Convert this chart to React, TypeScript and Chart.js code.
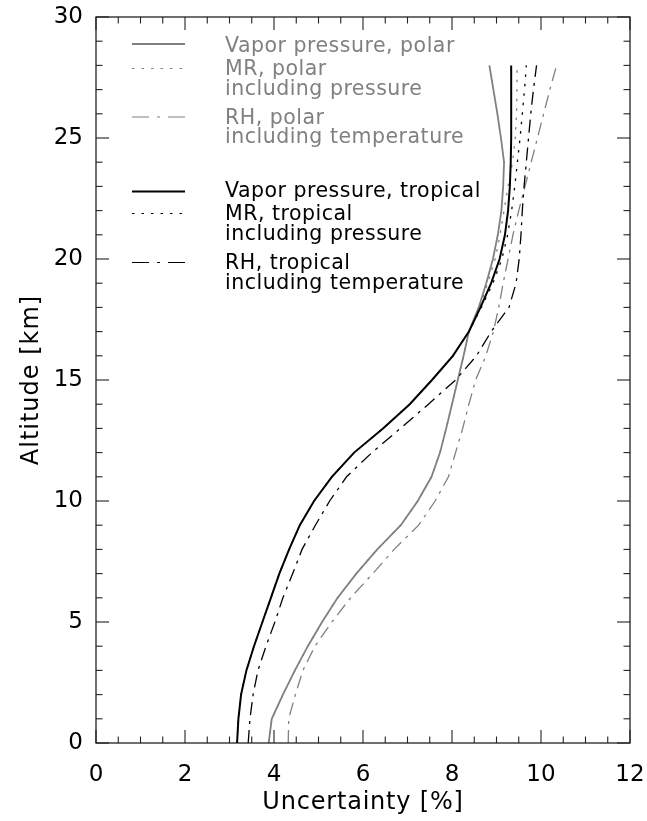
import { useEffect, useRef } from "react";
import { Chart, registerables } from "chart.js";

Chart.register(...registerables);

// ---------------- data ----------------
const ALTITUDE_KM = [0, 1, 2, 3, 4, 5, 6, 7, 8, 9, 10, 11, 12, 13, 14, 15, 16, 17, 18, 19, 20, 21, 22, 23, 24, 25, 26, 27, 28];

const VP_POLAR = [3.88, 3.95, 4.2, 4.47, 4.76, 5.08, 5.43, 5.85, 6.32, 6.85, 7.23, 7.54, 7.73, 7.87, 8.0, 8.13, 8.26, 8.38, 8.6, 8.77, 8.92, 9.03, 9.11, 9.15, 9.17, 9.1, 9.02, 8.93, 8.84];
const MR_POLAR = [3.88, 3.95, 4.2, 4.47, 4.76, 5.08, 5.43, 5.85, 6.32, 6.85, 7.23, 7.54, 7.73, 7.87, 8.0, 8.13, 8.26, 8.38, 8.62, 8.8, 8.97, 9.08, 9.17, 9.26, 9.36, 9.42, 9.45, 9.46, 9.46];
const RH_POLAR = [4.32, 4.33, 4.48, 4.65, 4.92, 5.3, 5.72, 6.22, 6.7, 7.25, 7.62, 7.92, 8.08, 8.24, 8.38, 8.53, 8.76, 8.93, 9.05, 9.15, 9.26, 9.37, 9.5, 9.64, 9.78, 9.92, 10.06, 10.2, 10.35];

const VP_TROPICAL = [3.17, 3.2, 3.26, 3.38, 3.55, 3.74, 3.93, 4.12, 4.34, 4.58, 4.9, 5.3, 5.8, 6.45, 7.05, 7.55, 8.02, 8.38, 8.64, 8.88, 9.07, 9.19, 9.26, 9.3, 9.32, 9.33, 9.33, 9.33, 9.33];
const MR_TROPICAL = [3.17, 3.2, 3.26, 3.38, 3.55, 3.74, 3.93, 4.12, 4.34, 4.58, 4.9, 5.3, 5.8, 6.45, 7.05, 7.55, 8.02, 8.38, 8.66, 8.92, 9.12, 9.25, 9.34, 9.41, 9.47, 9.53, 9.58, 9.63, 9.67];
const RH_TROPICAL = [3.42, 3.46, 3.53, 3.64, 3.82, 4.02, 4.2, 4.42, 4.63, 4.93, 5.25, 5.63, 6.2, 6.84, 7.47, 8.08, 8.55, 8.88, 9.28, 9.44, 9.51, 9.55, 9.58, 9.62, 9.67, 9.72, 9.77, 9.83, 9.9];

const X_TICKS = [0, 2, 4, 6, 8, 10, 12];
const Y_TICKS = [0, 5, 10, 15, 20, 25, 30];

const X_TITLE = "Uncertainty [%]";
const Y_TITLE = "Altitude [km]";

const LEGEND_LABELS = [
  ["Vapor pressure, polar"],
  ["MR, polar", "including pressure"],
  ["RH, polar", "including temperature"],
  ["Vapor pressure, tropical"],
  ["MR, tropical", "including pressure"],
  ["RH, tropical", "including temperature"],
];

// ---------------- styles ----------------
const GRAY = "#808080";
const BLACK = "#000000";
const FONT = "'DejaVu Sans', 'Liberation Sans', sans-serif";
const DOT = [2.5, 7];
const DASHDOT = [13, 6, 3, 6];

const pts = (xs: number[]) => ALTITUDE_KM.map((y, i) => ({ x: xs[i], y }));

const SERIES = [
  { data: VP_TROPICAL, color: BLACK, width: 2, dash: [] as number[] },
  { data: MR_TROPICAL, color: BLACK, width: 1.3, dash: DOT },
  { data: RH_TROPICAL, color: BLACK, width: 1.3, dash: DASHDOT },
  { data: VP_POLAR, color: GRAY, width: 1.8, dash: [] as number[] },
  { data: MR_POLAR, color: GRAY, width: 1.3, dash: DOT },
  { data: RH_POLAR, color: GRAY, width: 1.3, dash: DASHDOT },
];

// legend layout (canvas pixels)
const LEGEND_STYLE = [
  { color: GRAY, width: 1.8, dash: [] as number[], lineY: 44, base: [51.5] },
  { color: GRAY, width: 1.2, dash: DOT, lineY: 68.5, base: [75, 94.5] },
  { color: GRAY, width: 1.2, dash: [17, 8, 3, 8], lineY: 117, base: [123.5, 143] },
  { color: BLACK, width: 2, dash: [] as number[], lineY: 191.5, base: [197] },
  { color: BLACK, width: 1.2, dash: DOT, lineY: 213.5, base: [220, 240] },
  { color: BLACK, width: 1.2, dash: [17, 8, 3, 8], lineY: 262.5, base: [268.5, 288.5] },
];

const overlayPlugin = {
  id: "overlay",
  afterDatasetsDraw(chart: any) {
    const { ctx, chartArea: a, scales } = chart;
    const xs = scales.x;
    const ys = scales.y;
    ctx.save();
    ctx.strokeStyle = "#222";
    ctx.lineWidth = 1.3;
    ctx.setLineDash([]);
    ctx.strokeRect(a.left, a.top, a.right - a.left, a.bottom - a.top);
    const seg = (x1: number, y1: number, x2: number, y2: number) => {
      ctx.beginPath();
      ctx.moveTo(x1, y1);
      ctx.lineTo(x2, y2);
      ctx.stroke();
    };
    ctx.lineWidth = 1.1;
    for (let i = 0; i <= 24; i++) {
      const v = i * 0.5;
      const px = xs.getPixelForValue(v);
      const len = i % 4 === 0 ? 13 : 6.5;
      seg(px, a.bottom, px, a.bottom - len);
      seg(px, a.top, px, a.top + len);
    }
    for (let i = 0; i <= 30; i++) {
      const py = ys.getPixelForValue(i);
      const len = i % 5 === 0 ? 13 : 6.5;
      seg(a.left, py, a.left + len, py);
      seg(a.right, py, a.right - len, py);
    }
    ctx.restore();
  },
  afterDraw(chart: any) {
    const { ctx, chartArea: a } = chart;
    ctx.save();
    // axis titles
    ctx.fillStyle = "#000";
    ctx.font = `24px ${FONT}`;
    (ctx as any).letterSpacing = "0.8px";
    ctx.textAlign = "center";
    ctx.textBaseline = "alphabetic";
    ctx.fillText(X_TITLE, (a.left + a.right) / 2, 809);
    ctx.save();
    (ctx as any).letterSpacing = "1px";
    ctx.translate(38, (a.top + a.bottom) / 2);
    ctx.rotate(-Math.PI / 2);
    ctx.fillText(Y_TITLE, 0, 0);
    ctx.restore();

    // legend
    ctx.font = `20.5px ${FONT}`;
    (ctx as any).letterSpacing = "0.5px";
    ctx.textAlign = "left";
    LEGEND_LABELS.forEach((lines, i) => {
      const st = LEGEND_STYLE[i];
      ctx.strokeStyle = st.color;
      ctx.lineWidth = st.width;
      ctx.setLineDash(st.dash);
      ctx.beginPath();
      ctx.moveTo(132, st.lineY);
      ctx.lineTo(185, st.lineY);
      ctx.stroke();
      ctx.fillStyle = st.color;
      lines.forEach((t, j) => ctx.fillText(t, 225, st.base[j]));
    });
    ctx.restore();
  },
};

const noPad = (s: any) => {
  s.paddingLeft = 0;
  s.paddingRight = 0;
  s.paddingTop = 0;
  s.paddingBottom = 0;
};

export default function App() {
  const ref = useRef<HTMLCanvasElement | null>(null);
  useEffect(() => {
    document.body.style.margin = "0";
    const canvas = ref.current!;
    const chart = new Chart(canvas, {
      type: "scatter",
      data: {
        datasets: SERIES.map((s, i) => ({
          label: "s" + i,
          data: pts(s.data),
          showLine: true,
          borderColor: s.color,
          backgroundColor: s.color,
          borderWidth: s.width,
          borderDash: s.dash,
          pointRadius: 0,
          pointHoverRadius: 0,
          tension: 0,
          fill: false,
        })),
      },
      options: {
        responsive: false,
        animation: false,
        devicePixelRatio: 1,
        layout: { padding: { top: 17, right: 17, left: 0, bottom: 0 } },
        plugins: { legend: { display: false }, tooltip: { enabled: false } },
        events: [],
        scales: {
          x: {
            type: "linear",
            min: 0,
            max: 12,
            afterBuildTicks: (s: any) => {
              s.ticks = X_TICKS.map((v) => ({ value: v }));
            },
            afterFit: (s: any) => {
              s.height = 78;
              noPad(s);
            },
            ticks: { color: "#000", font: { family: FONT, size: 23 }, padding: 18, maxRotation: 0, autoSkip: false },
            grid: { display: false, drawTicks: false, tickLength: 0 },
            border: { display: false },
          },
          y: {
            type: "linear",
            min: 0,
            max: 30,
            afterBuildTicks: (s: any) => {
              s.ticks = Y_TICKS.map((v) => ({ value: v }));
            },
            afterFit: (s: any) => {
              s.width = 96;
              noPad(s);
            },
            ticks: { color: "#000", font: { family: FONT, size: 23 }, padding: 13, autoSkip: false },
            grid: { display: false, drawTicks: false, tickLength: 0 },
            border: { display: false },
          },
        },
      },
      plugins: [overlayPlugin],
    } as any);
    return () => chart.destroy();
  }, []);
  return <canvas ref={ref} width={647} height={821} style={{ display: "block" }} />;
}
